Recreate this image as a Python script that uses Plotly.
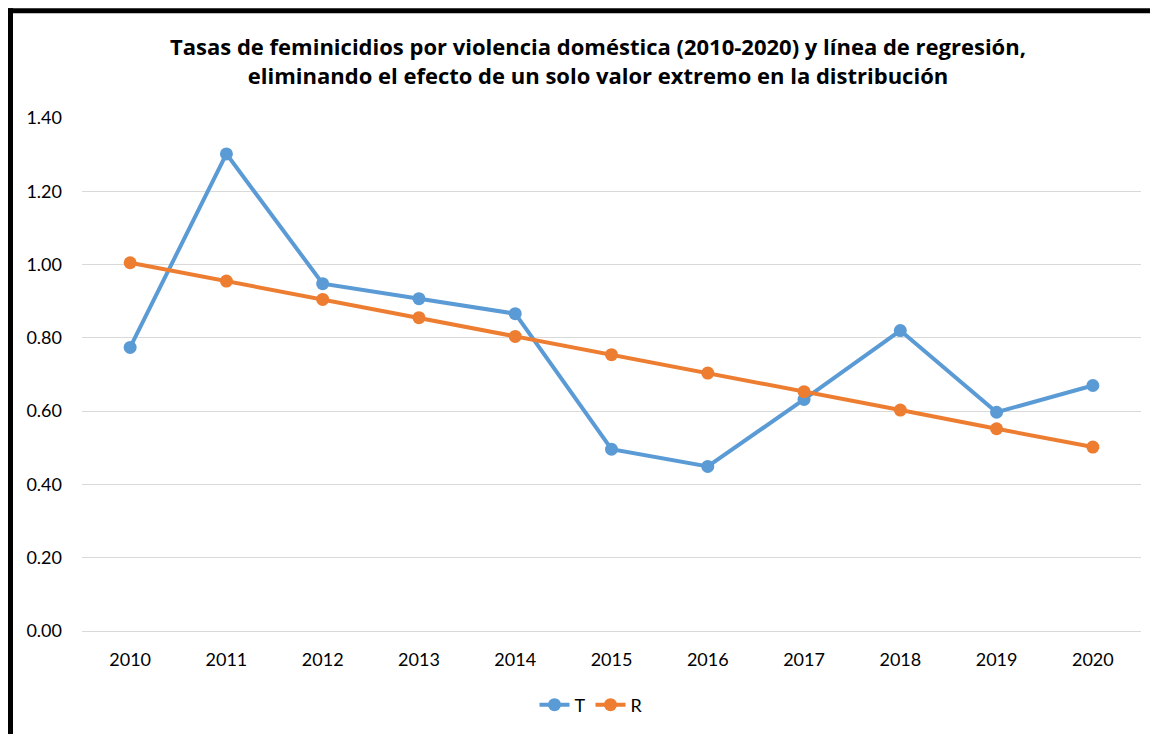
import plotly.graph_objects as go

years = ["2010", "2011", "2012", "2013", "2014", "2015", "2016", "2017", "2018", "2019", "2020"]
t_values = [0.774, 1.302, 0.948, 0.907, 0.866, 0.496, 0.449, 0.632, 0.820, 0.597, 0.670]
r_values = [1.005, 0.955, 0.905, 0.855, 0.804, 0.754, 0.704, 0.653, 0.603, 0.552, 0.502]
y_ticks = [0.0, 0.2, 0.4, 0.6, 0.8, 1.0, 1.2, 1.4]
y_tick_labels = ["0.00", "0.20", "0.40", "0.60", "0.80", "1.00", "1.20", "1.40"]

OFF = 8
W, H = 1158 - OFF, 734 - OFF
L, R, T, B = 82 - OFF, 17, 118 - OFF, 734 - 632
FONT = "Lato, sans-serif"
TITLE_FONT = "Open Sans, sans-serif"

def px_x(px):
    return (px - OFF - L) / (W - L - R)

def px_y(py):
    return (H - B - (py - OFF)) / (H - T - B)

fig = go.Figure()
fig.add_trace(go.Scatter(x=years, y=t_values, name="T", mode="lines+markers",
                         line=dict(color="#5b9bd5", width=4),
                         marker=dict(color="#5b9bd5", size=13)))
fig.add_trace(go.Scatter(x=years, y=r_values, name="R", mode="lines+markers",
                         line=dict(color="#ed7d31", width=4),
                         marker=dict(color="#ed7d31", size=13)))

fig.update_layout(
    width=W, height=H,
    margin=dict(l=L, r=R, t=T, b=B),
    paper_bgcolor="white", plot_bgcolor="white",
    font=dict(family=FONT, size=18, color="#000000"),
    title=dict(
        text="<b>Tasas de feminicidios por violencia doméstica (2010-2020) y línea de regresión,<br>eliminando el efecto de un solo valor extremo en la distribución</b>",
        x=(598 - OFF) / W, xanchor="center", y=1 - (55 - OFF) / H, yanchor="middle",
        font=dict(family=TITLE_FONT, size=22, color="#000000"),
    ),
    showlegend=True,
    legend=dict(orientation="h", x=px_x(591), xanchor="center", y=px_y(705), yanchor="middle",
                font=dict(family=FONT, size=18), itemwidth=30, tracegroupgap=0),
    xaxis=dict(type="category", range=[-0.5, 10.5], showgrid=False, showline=False, ticks="",
               ticklabelstandoff=16,
               tickfont=dict(family=FONT, size=18), fixedrange=True),
    yaxis=dict(range=[0, 1.4], tickvals=y_ticks, ticktext=y_tick_labels,
               showgrid=True, gridcolor="#d9d9d9", gridwidth=1,
               zeroline=True, zerolinecolor="#d9d9d9", zerolinewidth=1,
               showline=False, ticks="", ticklabelstandoff=19,
               tickfont=dict(family=FONT, size=18)),
)

# Thick black frame (top and left edges)
fig.add_shape(type="line", xref="paper", yref="paper",
              x0=px_x(7), x1=px_x(1165), y0=px_y(10.5), y1=px_y(10.5),
              line=dict(color="black", width=5))
fig.add_shape(type="line", xref="paper", yref="paper",
              x0=px_x(10), x1=px_x(10), y0=px_y(8), y1=px_y(745),
              line=dict(color="black", width=6))

fig.write_html("out.html")
